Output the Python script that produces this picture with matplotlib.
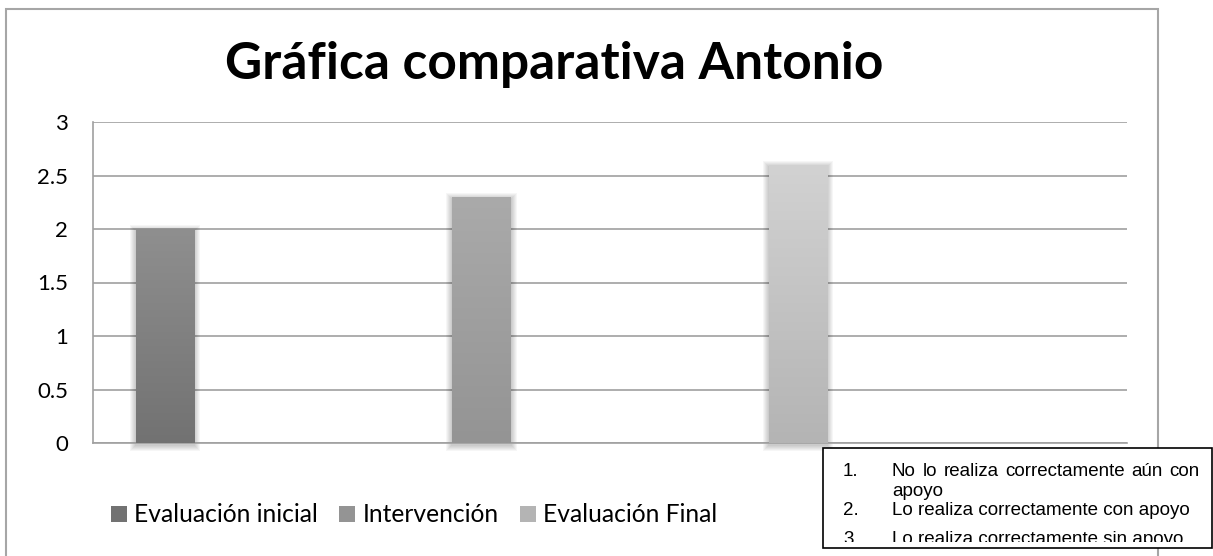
import matplotlib
matplotlib.use("Agg")
import matplotlib.pyplot as plt
import numpy as np
from matplotlib.patches import Rectangle

# data
series = ["Evaluación inicial", "Intervención", "Evaluación Final"]
values = [2.0, 2.3, 2.6]
yticks = [0, 0.5, 1, 1.5, 2, 2.5, 3]
grad_top = ["#8f8f8f", "#aaaaaa", "#d2d2d2"]
grad_bottom = ["#727272", "#949494", "#b4b4b4"]
note_nums = ["1.", "", "2.", "3"]
note_lines = ["No lo realiza correctamente aún con", "apoyo",
              "Lo realiza correctamente con apoyo", "Lo realiza correctamente sin apoyo"]

W, H = 1213, 556
fig = plt.figure(figsize=(W / 100, H / 100), dpi=100)
plt.rcParams['font.family'] = ['Lato', 'DejaVu Sans']


def fx(x):
    return x / W


def fy(y):
    return 1 - y / H


# outer chart border
fig.patches.append(Rectangle((fx(6), fy(580)), fx(1158 - 6), fy(9) - fy(580),
                             transform=fig.transFigure, fill=False,
                             edgecolor="#a6a6a6", linewidth=1.5, zorder=0))

ax = fig.add_axes([fx(93), fy(443), fx(1127 - 93), fy(122) - fy(443)])
ax.set_ylim(0, 3)
ax.set_xlim(-0.2275, 3.0395)
ax.set_yticks(yticks)
ax.set_yticklabels([("%g" % t) for t in yticks], fontsize=16)
ax.tick_params(axis='y', length=0, pad=18)
ax.set_xticks([])
ax.grid(axis='y', color="#a0a0a0", linewidth=1.2)
ax.set_axisbelow(True)
for s in ["top", "right"]:
    ax.spines[s].set_visible(False)
for s in ["left", "bottom"]:
    ax.spines[s].set_color("#a0a0a0")
    ax.spines[s].set_linewidth(1.2)

# pixel size in data units, for the shadow
px_x = 3.267 / 1034
px_y = 3.0 / 321

width = 0.186
bars = []
for i, v in enumerate(values):
    # soft shadow, a bit heavier below the bar
    for g in range(1, 7):
        ax.add_patch(Rectangle((i - width / 2 - g * px_x, -2 * px_y - g * px_y),
                               width + 2 * g * px_x, v + 2 * g * px_y,
                               facecolor="k", alpha=0.035, edgecolor="none",
                               zorder=2, clip_on=False))
    b = ax.bar(i, v, width, color=grad_bottom[i], zorder=3, label=series[i])[0]
    c0 = np.array(matplotlib.colors.to_rgb(grad_top[i]))
    c1 = np.array(matplotlib.colors.to_rgb(grad_bottom[i]))
    t = np.linspace(0, 1, 100)[:, None]
    img = (c0 * (1 - t) + c1 * t)[:, None, :]
    im = ax.imshow(img, extent=(i - width / 2, i + width / 2, 0, v),
                   aspect='auto', zorder=4)
    im.set_clip_path(b)
    bars.append(b)

ax.set_xlim(-0.2275, 3.0395)
ax.set_ylim(0, 3)

fig.text(fx(554), fy(79), "Gráfica comparativa Antonio", ha="center",
         va="baseline", fontsize=37, fontweight="bold")

fig.legend(handles=bars, labels=series, ncol=3, frameon=False,
           loc="center left", bbox_to_anchor=(fx(89), fy(515)),
           fontsize=17.7, handlelength=0.65, handleheight=0.65,
           handletextpad=0.3, columnspacing=0.85)

# note box in the bottom right corner
box = Rectangle((fx(823), fy(548)), fx(1212 - 823), fy(448) - fy(548),
                transform=fig.transFigure, facecolor="white",
                edgecolor="black", linewidth=1.2, zorder=5)
fig.patches.append(box)
clip = Rectangle((fx(823), fy(542)), fx(1212 - 823), fy(448) - fy(542),
                 transform=fig.transFigure, visible=False)
fig.patches.append(clip)

baselines = [476, 495.5, 515, 544]
renderer = fig.canvas.get_renderer()
for n, line, yb in zip(note_nums, note_lines, baselines):
    kw = dict(fontsize=13.5, family="Liberation Sans", va="baseline", zorder=6)
    if n:
        tn = fig.text(fx(843), fy(yb), n, **kw)
        tn.set_clip_path(clip)
    if line.startswith("No lo"):
        # justified first line
        words = line.split()
        arts = [fig.text(0, fy(yb), w, **kw) for w in words]
        widths = [a.get_window_extent(renderer).width for a in arts]
        gap = (1200 - 892 - sum(widths)) / (len(words) - 1)
        x = 892
        for a, w in zip(arts, widths):
            a.set_x(fx(x))
            x += w + gap
    else:
        tl = fig.text(fx(892), fy(yb), line, **kw)
        tl.set_clip_path(clip)

fig.savefig("out.png", dpi=100)
